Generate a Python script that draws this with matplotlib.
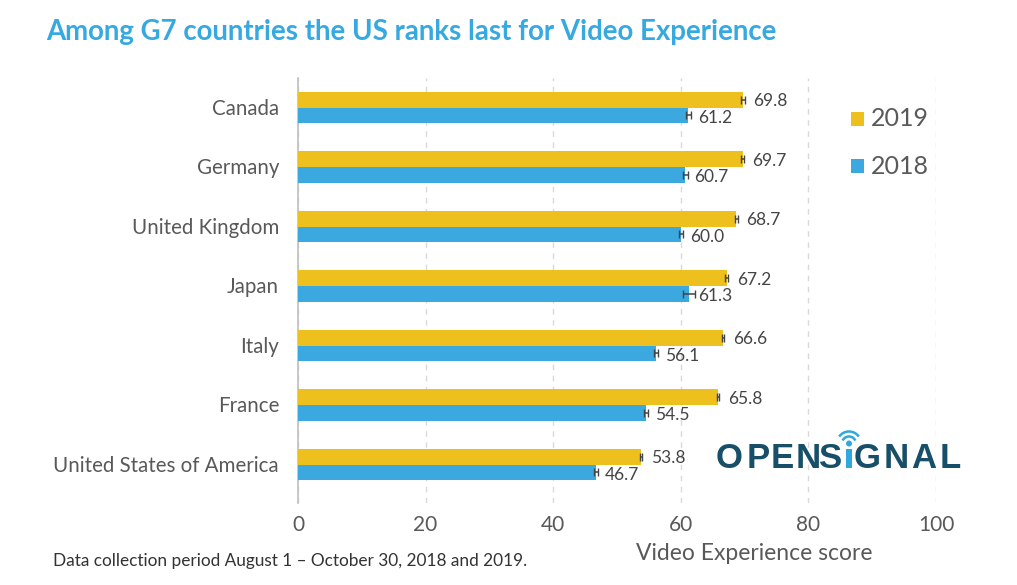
import matplotlib
matplotlib.use("Agg")
import matplotlib.pyplot as plt
from matplotlib.patches import Arc, Circle, Rectangle
from matplotlib.transforms import ScaledTranslation

countries = ["Canada", "Germany", "United Kingdom", "Japan", "Italy", "France", "United States of America"]
v2019 = [69.8, 69.7, 68.7, 67.2, 66.6, 65.8, 53.8]
v2018 = [61.2, 60.7, 60.0, 61.3, 56.1, 54.5, 46.7]
err2019 = [0.3, 0.2, 0.2, 0.2, 0.2, 0.2, 0.15]
err2018 = [0.4, 0.4, 0.3, 0.9, 0.3, 0.3, 0.3]
ticks = [0, 20, 40, 60, 80, 100]
YEL, BLU, TXT = "#EDC01E", "#3BA9E0", "#595959"
NAVY = "#174F68"

plt.rcParams["font.family"] = ["Lato", "DejaVu Sans"]
W, H = 1017, 585
fig = plt.figure(figsize=(W/100, H/100), dpi=100)
ax = fig.add_axes([298/W, 1-503/H, (936-298)/W, (503-78)/H])
ax.set_xlim(0, 100)
ax.set_ylim(6.647, -0.496)
ys = list(range(7))
h = 0.265
ek = dict(ecolor="#444444", lw=1.1, capsize=2.6, capthick=1, zorder=4)
ax.barh([y-h/2 for y in ys], v2019, height=h, color=YEL, zorder=3, xerr=err2019, error_kw=ek)
ax.barh([y+h/2 for y in ys], v2018, height=h, color=BLU, zorder=3, xerr=err2018, error_kw=ek)
for y, a, b in zip(ys, v2019, v2018):
    ax.text(a+1.55, y-h/2+0.03, f"{a:.1f}", va="center", ha="left", fontsize=12.5, color="#444444", zorder=5)
    ax.text(b+1.45, y+h/2+0.04, f"{b:.1f}", va="center", ha="left", fontsize=12.5, color="#444444", zorder=5)
ax.set_yticks(ys, countries, fontsize=14.8, color=TXT)
ax.set_xticks(ticks, [str(t) for t in ticks], fontsize=15, color=TXT)
ax.tick_params(length=0)
ax.tick_params(axis="y", pad=13.6)
ax.tick_params(axis="x", pad=8.5)
up = ScaledTranslation(0, 1.0/100, fig.dpi_scale_trans)
for lab in ax.get_yticklabels():
    lab.set_transform(lab.get_transform() + up)
ax.grid(axis="x", color="#D9D9D9", ls=(0, (4, 4)), lw=1, zorder=0)
for s in ["top", "right", "bottom"]:
    ax.spines[s].set_visible(False)
ax.spines["left"].set_color("#BFBFBF")
ax.spines["left"].set_linewidth(1.2)

fig.text(46/W, 1-32/H, "Among G7 countries the US ranks last for Video Experience",
         fontsize=19.9, fontweight="bold", color="#36A9E1", va="center")
fig.text(53/W, 1-561/H, "Data collection period August 1 \u2013 October 30, 2018 and 2019.",
         fontsize=12.4, color="#333333", va="center")
fig.text(754/W, 1-554/H, "Video Experience score", fontsize=16.5, color=TXT, va="center", ha="center")

# overlay in pixel coordinates for legend and logo
ov = fig.add_axes([0, 0, 1, 1], facecolor="none")
ov.set_xlim(0, W)
ov.set_ylim(H, 0)
ov.axis("off")
for yp, col, lab in [(119, YEL, "2019"), (166, BLU, "2018")]:
    ov.add_patch(Rectangle((851, yp-7), 13, 14, color=col, lw=0))
    ov.text(871, yp, lab, fontsize=18, color=TXT, va="center")

logo = [("O", 729), ("P", 758), ("E", 782.5), ("N", 808.5), ("S", 831), ("G", 867.5), ("N", 896.5), ("A", 923.5), ("L", 950)]
for ch, cx in logo:
    ov.text(cx, 468, ch, fontsize=25, fontweight="bold", family="Liberation Sans", color=NAVY, ha="center", va="baseline")
ov.add_patch(Rectangle((846, 449), 6, 19, color="#2FA8DC", lw=0))
ov.add_patch(Circle((849, 443.5), 3, color="#2FA8DC", lw=0))
ov.add_patch(Arc((849, 443.5), 14, 14, theta1=205, theta2=335, color="#2FA8DC", lw=1.8))
ov.add_patch(Arc((849, 443.5), 24, 24, theta1=215, theta2=325, color="#2FA8DC", lw=1.8))
fig.savefig("out.png", dpi=100, facecolor="white")
